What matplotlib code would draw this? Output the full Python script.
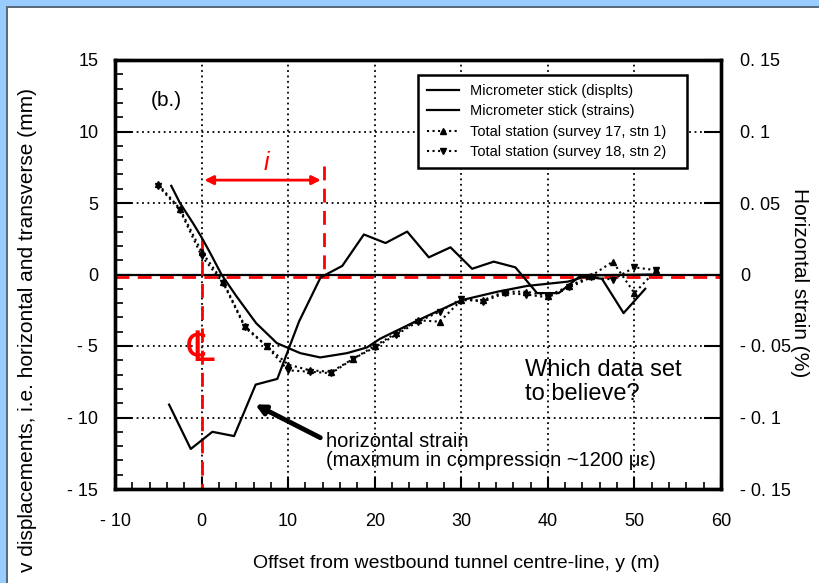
import numpy as np
import matplotlib
matplotlib.use("Agg")
import matplotlib.pyplot as plt
from matplotlib.patches import Rectangle
from matplotlib.lines import Line2D

plt.rcParams['font.family'] = ['Liberation Sans', 'DejaVu Sans']

# micrometer stick, displacements (mm) - smooth curve
disp_x = [-3.5, -2.5, -1, 0, 1, 2.3, 4, 6.3, 8.7, 11.4, 13.7, 16.8, 19.1, 20.6,
          25, 30, 34.2, 37.6, 42.3, 44, 46, 52]
disp_y = [6.2, 5.0, 3.6, 2.6, 1.5, 0.0, -1.5, -3.4, -4.8, -5.5, -5.8, -5.5, -5.1, -4.5,
          -3.2, -1.8, -1.2, -0.8, -0.5, -0.2, -0.05, 0.0]

# micrometer stick, horizontal strain (%)
strain_x = [-3.75, -1.25, 1.25, 3.75, 6.25, 8.75, 11.25, 13.75, 16.25, 18.75, 21.25, 23.75,
            26.25, 28.75, 31.25, 33.75, 36.25, 38.75, 41.25, 43.75, 46.25, 48.75, 51.25]
strain_y = [-0.091, -0.122, -0.110, -0.113, -0.077, -0.073, -0.033, -0.002, 0.006, 0.028, 0.022, 0.030,
            0.012, 0.019, 0.004, 0.009, 0.005, -0.013, -0.013, -0.001, -0.003, -0.027, -0.010]

# total station surveys (mm)
ts_x = [-5, -2.5, 0, 2.5, 5, 7.5, 10, 12.5, 15, 17.5, 20, 22.5, 25, 27.5, 30, 32.5,
        35, 37.5, 40, 42.5, 45, 47.5, 50, 52.5]
survey17 = [6.3, 4.6, 1.6, -0.5, -3.6, -5.0, -6.3, -6.7, -6.8, -5.9, -5.0, -4.1, -3.2, -3.3, -1.8, -1.8,
            -1.2, -1.2, -1.5, -0.8, -0.1, 0.9, -1.3, 0.3]
survey18 = [6.2, 4.5, 1.3, -0.6, -3.7, -5.0, -6.7, -6.8, -6.9, -5.9, -5.1, -4.2, -3.3, -2.6, -1.7, -1.9,
            -1.3, -1.4, -1.6, -0.9, -0.2, -0.35, 0.5, 0.3]

left_ticks = [-15, -10, -5, 0, 5, 10, 15]
left_labels = ['- 15', '- 10', '- 5', '0', '5', '10', '15']
right_ticks = [-0.15, -0.1, -0.05, 0, 0.05, 0.1, 0.15]
right_labels = ['- 0. 15', '- 0. 1', '- 0. 05', '0', '0. 05', '0. 1', '0. 15']
x_ticks = [-10, 0, 10, 20, 30, 40, 50, 60]
x_labels = ['- 10', '0', '10', '20', '30', '40', '50', '60']

fig = plt.figure(figsize=(8.2, 5.83), dpi=100)
fig.patch.set_facecolor('white')
# slide frame: light blue band at top and left
fig.patches.append(Rectangle((0, 1 - 6 / 583), 1, 6 / 583, transform=fig.transFigure,
                             facecolor='#99ccff', edgecolor='none'))
fig.patches.append(Rectangle((0, 1 - 7.5 / 583), 1, 1.5 / 583, transform=fig.transFigure,
                             facecolor='#5a6a7a', edgecolor='none'))
fig.patches.append(Rectangle((0, 0), 6 / 820, 1, transform=fig.transFigure,
                             facecolor='#99ccff', edgecolor='none'))
fig.patches.append(Rectangle((6 / 820, 0), 1.5 / 820, 1 - 6 / 583, transform=fig.transFigure,
                             facecolor='#5a6a7a', edgecolor='none'))

ax = fig.add_axes([115 / 820, 94 / 583, 606 / 820, 429 / 583])
ax.set_xlim(-10, 60)
ax.set_ylim(-15, 15)

ax.grid(True, which='major', linestyle=(0, (1, 2)), color='black', lw=1.3)
ax.axhline(0, color='black', lw=1.6)

# red construction lines
ax.axhline(-0.2, color='red', lw=2, ls=(0, (5, 3)))
ax.plot([0, 0], [2.5, -15], color='red', lw=2, ls=(0, (5, 3)))
ax.plot([14.1, 14.1], [7.6, -0.2], color='red', lw=2, ls=(0, (5, 3)))
ax.annotate('', xy=(0, 6.6), xytext=(14.1, 6.6),
            arrowprops=dict(arrowstyle='<|-|>', color='red', lw=2, mutation_scale=13))
ax.text(7.5, 7.8, 'i', color='red', fontsize=18, style='italic', ha='center', va='center')
ax.text(0, -5.2, '\u2104', color='red', fontsize=30, ha='center', va='center',
        family=['DejaVu Sans'])

ax.plot(disp_x, disp_y, color='black', lw=1.6)
ax.plot(ts_x, survey17, color='black', lw=1.5, ls=':', marker='^', ms=4.5)
ax.plot(ts_x, survey18, color='black', lw=1.5, ls=':', marker='v', ms=4.5)

ax.text(-4.1, 12.2, '(b.)', fontsize=15, ha='center', va='center')
ax.text(37.4, -5.9, 'Which data set\nto believe?', fontsize=17, va='top', ha='left',
        linespacing=1.1)
ax.text(14.4, -11.0, 'horizontal strain\n(maximum in compression ~1200 \u03bc\u03b5)',
        fontsize=14.5, va='top', ha='left', linespacing=1.0)
ax.annotate('', xy=(5.9, -9.0), xytext=(14.0, -11.5),
            arrowprops=dict(arrowstyle='-|>', color='black', lw=3.5, mutation_scale=14))

ax.set_xticks(x_ticks)
ax.set_xticklabels(x_labels)
ax.set_yticks(left_ticks)
ax.set_yticklabels(left_labels)
ax.set_xticks(np.arange(-10, 61, 2), minor=True)
ax.set_yticks(np.arange(-15, 16, 1), minor=True)
ax.tick_params(axis='x', which='major', direction='in', length=9, width=1.5, pad=17, labelsize=13)
ax.tick_params(axis='x', which='minor', direction='in', length=5, width=1.2)
ax.tick_params(axis='y', which='major', direction='in', length=12, width=1.5, pad=12, labelsize=13)
ax.tick_params(axis='y', which='minor', direction='in', length=6, width=1.2)
for s in ax.spines.values():
    s.set_linewidth(2.4)

ax.set_xlabel('Offset from westbound tunnel centre-line, y (m)', fontsize=14)
ax.xaxis.set_label_coords(0.563, -0.155)
ax.set_ylabel('v displacements, i.e. horizontal and transverse (mm)', fontsize=15)
ax.yaxis.set_label_coords(-0.128, 0.37)

ax2 = ax.twinx()
ax2.set_ylim(-0.15, 0.15)
ax2.plot(strain_x, strain_y, color='black', lw=1.6)
ax2.set_yticks(right_ticks)
ax2.set_yticklabels(right_labels)
ax2.tick_params(axis='y', which='major', direction='in', length=12, width=1.5, pad=14, labelsize=13)
ax2.set_ylabel('Horizontal strain (%)', fontsize=15, rotation=270, va='center')
ax2.yaxis.set_label_coords(1.13, 0.48)
for s in ax2.spines.values():
    s.set_linewidth(2.4)

handles = [
    Line2D([], [], color='black', lw=1.6),
    Line2D([], [], color='black', lw=1.6),
    Line2D([], [], color='black', lw=1.5, ls=':', marker='^', ms=4),
    Line2D([], [], color='black', lw=1.5, ls=':', marker='v', ms=4),
]
labels = ['Micrometer stick (displts)', 'Micrometer stick (strains)',
          'Total station (survey 17, stn 1)', 'Total station (survey 18, stn 2)']
leg = ax2.legend(handles, labels, loc='upper left', bbox_to_anchor=(0.5, 0.73, 0.444, 0.235),
                 mode='expand', borderaxespad=0, fontsize=10.5, handlelength=2.2,
                 labelspacing=0.45, fancybox=False, framealpha=1, borderpad=0.6)
leg.get_frame().set_edgecolor('black')
leg.get_frame().set_linewidth(1.8)

fig.savefig('out.png', dpi=100)
